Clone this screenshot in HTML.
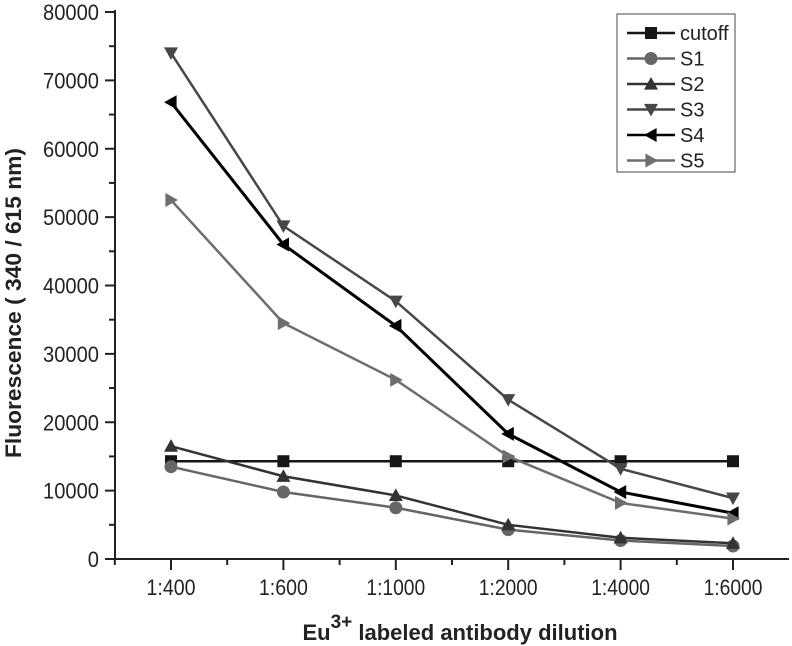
<!DOCTYPE html>
<html><head><meta charset="utf-8"><style>
html,body{margin:0;padding:0;background:#fff;}
svg{display:block;font-family:"Liberation Sans",Arial,sans-serif;}
</style></head><body>
<svg id="chart" width="792" height="646" viewBox="0 0 792 646" xmlns="http://www.w3.org/2000/svg"></svg>
<script>
const categories = ["1:400","1:600","1:1000","1:2000","1:4000","1:6000"];
const yTicks = [0,10000,20000,30000,40000,50000,60000,70000,80000];
const cutoff = [14300,14300,14300,14300,14300,14300];
const s1 = [13500,9800,7500,4300,2700,1900];
const s2 = [16500,12100,9300,5000,3100,2300];
const s3 = [74000,48700,37700,23300,13200,8900];
const s4 = [66800,46000,34100,18300,9800,6700];
const s5 = [52500,34500,26200,15000,8200,5900];
const seriesNames = ["cutoff","S1","S2","S3","S4","S5"];

const NS="http://www.w3.org/2000/svg";
const svg=document.getElementById('chart');
const X0=115,X1=789,Y0=559,Y1=12;
function x(i){return 171+i*112.4;}
function y(v){return Y0-(v/80000)*(Y0-Y1);}
function mk(t,a,parent){const e=document.createElementNS(NS,t);for(const k in a)e.setAttribute(k,a[k]);(parent||svg).appendChild(e);return e;}

const axes=mk('g',{});


const yl=mk('line',{x1:X0,y1:Y1-2,x2:X0,y2:Y0,stroke:'#222','stroke-width':2},axes);


const xl=mk('line',{x1:X0,y1:Y0,x2:X1,y2:Y0,stroke:'#222','stroke-width':2},axes);


for(let v=0;v<=80000;v+=5000){
  const major=v%10000===0;
  mk('line',{x1:X0-(major?10:6),y1:y(v),x2:X0,y2:y(v),stroke:'#222','stroke-width':2},axes);
}
yTicks.forEach(v=>{
  const s=String(v);
  const t=mk('text',{x:99,y:y(v)+8,'text-anchor':'end','font-size':22,fill:'#222',textLength:s.length*11.2,lengthAdjust:'spacingAndGlyphs'},axes);
  t.textContent=s;
  
  
});
for(let i=-0.5;i<=5.6;i+=0.5){
  const xx=x(i); if(xx<X0-1||xx>X1)continue;
  const major=Number.isInteger(i);
  mk('line',{x1:xx,y1:Y0,x2:xx,y2:Y0+(major?11:6),stroke:'#222','stroke-width':2},axes);
}
categories.forEach((c,i)=>{
  const t=mk('text',{x:x(i),y:595,'text-anchor':'middle','font-size':22,fill:'#222',textLength:c.length*9.8,lengthAdjust:'spacingAndGlyphs'},axes);
  t.textContent=c;
  
  
});
const xt=mk('text',{x:460,y:640,'text-anchor':'middle','font-size':22,'font-weight':'bold',fill:'#222'});
xt.innerHTML='Eu<tspan dy="-12" font-size="19">3+</tspan><tspan dy="12"> labeled antibody dilution</tspan>';


const yt=mk('text',{x:0,y:0,transform:'translate(21,303) rotate(-90)','text-anchor':'middle','font-size':22,'font-weight':'bold',fill:'#222',textLength:310,lengthAdjust:'spacingAndGlyphs'});
yt.textContent='Fluorescence ( 340 / 615 nm)';



function marker(type,cx,cy,col,g){
  const r=7;
  if(type==='sq')return mk('rect',{x:cx-6,y:cy-6,width:12,height:12,fill:col},g);
  if(type==='ci')return mk('circle',{cx,cy,r:6.5,fill:col},g);
  let p;
  if(type==='up')p=[[cx,cy-r],[cx+r,cy+r*0.8],[cx-r,cy+r*0.8]];
  if(type==='dn')p=[[cx,cy+r],[cx+r,cy-r*0.8],[cx-r,cy-r*0.8]];
  if(type==='lf')p=[[cx-r,cy],[cx+r*0.8,cy-r],[cx+r*0.8,cy+r]];
  if(type==='rt')p=[[cx+r,cy],[cx-r*0.8,cy-r],[cx-r*0.8,cy+r]];
  return mk('polygon',{points:p.map(q=>q.join(',')).join(' '),fill:col},g);
}
const defs=[[cutoff,'#161616','sq'],[s1,'#666','ci'],[s2,'#333','up'],[s3,'#474747','dn'],[s4,'#000','lf'],[s5,'#6e6e6e','rt']];
defs.forEach((d,si)=>{
  const g=mk('g',{});
  
  
  const pts=d[0].map((v,i)=>x(i)+','+y(v)).join(' ');
  mk('polyline',{points:pts,fill:'none',stroke:d[1],'stroke-width':si===4?3:2.5},g);
  d[0].forEach((v,i)=>{
    const m=marker(d[2],x(i),y(v),d[1],g);
    
    
  });
});
const lg=mk('g',{});


mk('rect',{x:617,y:14,width:118,height:158,fill:'#fff',stroke:'#666','stroke-width':1.2},lg);
defs.forEach((d,si)=>{
  const cy=33+si*25.5;
  const e=mk('g',{},lg);
  
  
  mk('line',{x1:627,y1:cy,x2:675,y2:cy,stroke:d[1],'stroke-width':2.5},e);
  marker(d[2],651,cy,d[1],e);
  const t=mk('text',{x:680,y:cy+7,'font-size':20,fill:'#222'},e);
  t.textContent=seriesNames[si];
});
</script>
</body></html>
